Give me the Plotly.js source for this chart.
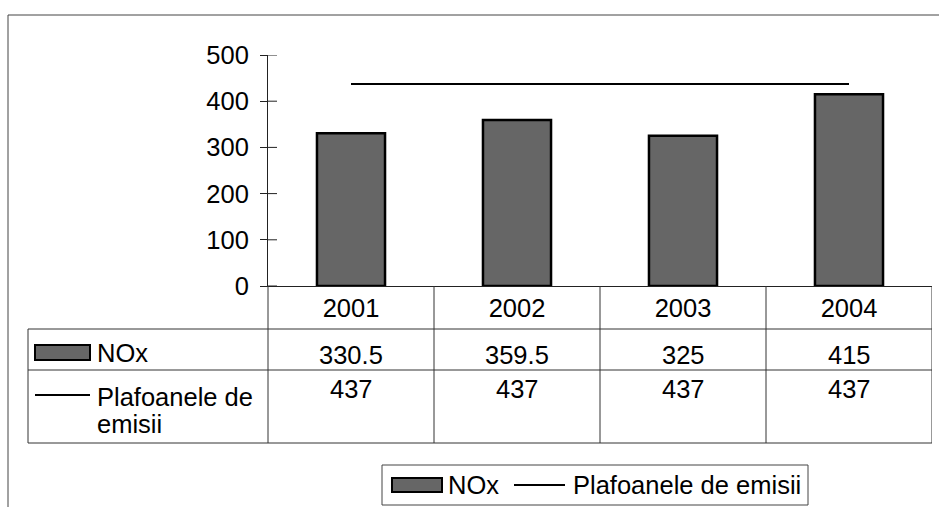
<!DOCTYPE html>
<html>
<head>
<meta charset="utf-8">
<script src="https://cdn.plot.ly/plotly-3.0.1.min.js"></script>
<style>html,body{margin:0;padding:0;background:#fff;}#chart{width:939px;height:507px;}</style>
</head>
<body>
<div id="chart"></div>
<script>
const years = ['2001', '2002', '2003', '2004'];
const noxValues = [330.5, 359.5, 325, 415];
const plafonValues = [437, 437, 437, 437];
const seriesNames = ['NOx', 'Plafoanele de emisii'];
const yTickValues = [0, 100, 200, 300, 400, 500];

// plot area in pixels
const L = 268, R = 932, T = 55, B = 286;
const W = 939, H = 507;
const px = x => (x - L) / (R - L);
const py = y => (B - y) / (B - T);

const FONT = 'Liberation Sans, Arial, sans-serif';
const FS = 25.5;
const gridCol = '#333';

const traces = [
  {
    type: 'bar', x: years, y: noxValues, name: seriesNames[0],
    marker: {color: '#666666', line: {color: '#000', width: 2.5}},
    hoverinfo: 'x+y'
  },
  {
    type: 'scatter', mode: 'lines', x: years, y: plafonValues, name: seriesNames[1],
    line: {color: '#000', width: 2}, hoverinfo: 'x+y'
  }
];

function hline(y, x0, x1, col, w) {
  return {type: 'line', xref: 'paper', yref: 'paper', x0: px(x0), x1: px(x1), y0: py(y), y1: py(y),
          line: {color: col || gridCol, width: w || 1}};
}
function vline(x, y0, y1, col, w) {
  return {type: 'line', xref: 'paper', yref: 'paper', x0: px(x), x1: px(x), y0: py(y0), y1: py(y1),
          line: {color: col || gridCol, width: w || 1}};
}
function vlineCat(xc, y0, y1) {
  return {type: 'line', xref: 'x', yref: 'paper', x0: xc, x1: xc, y0: py(y0), y1: py(y1),
          line: {color: gridCol, width: 1}};
}

const shapes = [
  // outer frame
  {type: 'rect', xref: 'paper', yref: 'paper', x0: px(8), x1: px(980), y0: py(15), y1: py(540),
   line: {color: '#444', width: 1}},
  // table
  hline(329, 28, 932), hline(370, 28, 932), hline(443, 28, 932),
  vline(28, 329, 443), vline(268, 286, 443),
  vlineCat(0.5, 286, 443), vlineCat(1.5, 286, 443), vlineCat(2.5, 286, 443), vlineCat(3.5, 286, 443),
  // table keys
  {type: 'rect', xref: 'paper', yref: 'paper', x0: px(35), x1: px(90), y0: py(345), y1: py(360),
   fillcolor: '#666666', line: {color: '#000', width: 2}},
  hline(395, 35, 90, '#000', 2),
  // legend box
  {type: 'rect', xref: 'paper', yref: 'paper', x0: px(382), x1: px(808), y0: py(465), y1: py(505),
   line: {color: '#444', width: 1}},
  {type: 'rect', xref: 'paper', yref: 'paper', x0: px(392), x1: px(442), y0: py(478), y1: py(492),
   fillcolor: '#666666', line: {color: '#000', width: 2}},
  hline(485, 514, 565, '#000', 2)
];
// inner half of the crossing y-axis ticks
yTickValues.forEach(v => {
  shapes.push({type: 'line', xref: 'paper', yref: 'y', x0: 0, x1: px(277), y0: v, y1: v,
               line: {color: '#222', width: 1}});
});

const annotations = [];
function ann(text, x, xref, y, xanchor) {
  annotations.push({text: text, x: x, xref: xref, y: y, yref: 'paper', xanchor: xanchor || 'center',
    yanchor: 'middle', showarrow: false, font: {family: FONT, size: FS, color: '#000'}});
}
years.forEach((yr, i) => {
  ann(String(noxValues[i]), i, 'x', py(355));
  ann(String(plafonValues[i]), i, 'x', py(389));
});
ann(seriesNames[0], px(95), 'paper', py(353), 'left');
const parts = seriesNames[1].split(' ');
ann(parts.slice(0, 2).join(' '), px(95), 'paper', py(397), 'left');
ann(parts.slice(2).join(' '), px(95), 'paper', py(424), 'left');
ann(seriesNames[0], px(446), 'paper', py(485), 'left');
ann(seriesNames[1], px(571), 'paper', py(485), 'left');

const layout = {
  width: W, height: H,
  margin: {l: L, r: W - R, t: T, b: H - B, pad: 0},
  paper_bgcolor: '#fff', plot_bgcolor: '#fff',
  showlegend: false,
  bargap: 0.59,
  font: {family: FONT, size: FS, color: '#000'},
  xaxis: {
    type: 'category', range: [-0.5, 3.5], showgrid: false, zeroline: false,
    showline: true, linecolor: '#222', linewidth: 1, ticks: '',
    tickfont: {family: FONT, size: FS, color: '#000'}, ticklabelstandoff: -1
  },
  yaxis: {
    range: [0, 500], tickvals: yTickValues, showgrid: false, zeroline: false,
    showline: true, linecolor: '#222', linewidth: 1,
    ticks: 'outside', ticklen: 7, tickcolor: '#222', tickwidth: 1,
    tickfont: {family: FONT, size: FS, color: '#000'}, ticklabelstandoff: 6
  },
  shapes: shapes,
  annotations: annotations
};

Plotly.newPlot('chart', traces, layout, {displayModeBar: false, staticPlot: true});
</script>
</body>
</html>
